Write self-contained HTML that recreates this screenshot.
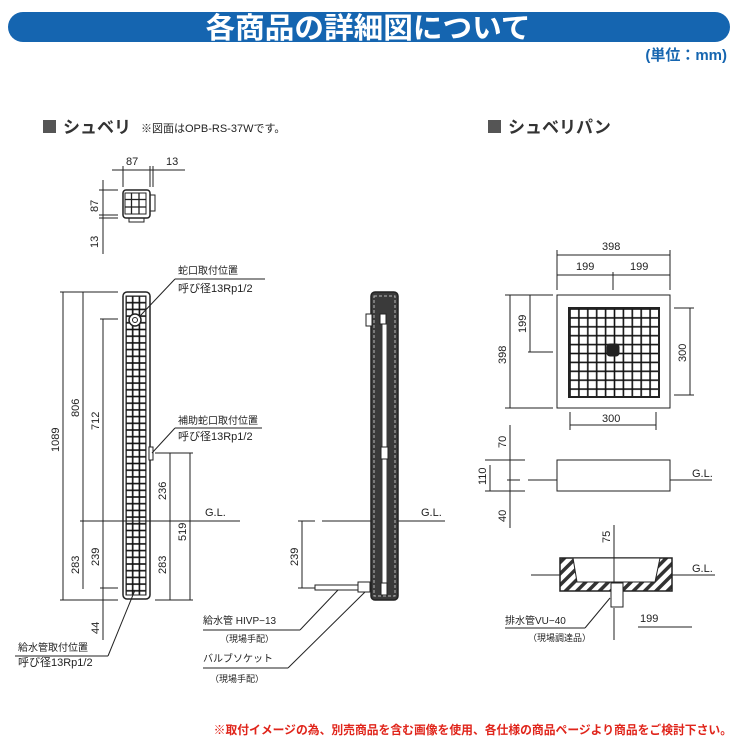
<!DOCTYPE html>
<html><head><meta charset="utf-8">
<style>
html,body{margin:0;padding:0;background:#fff;}
svg{display:block;}
text{font-family:"Liberation Sans","Noto Sans CJK JP",sans-serif;fill:#222;}
</style></head>
<body>
<svg width="740" height="740" viewBox="0 0 740 740" xmlns="http://www.w3.org/2000/svg">
<defs>
<pattern id="g1" x="126" y="296" width="6.7" height="6.7" patternUnits="userSpaceOnUse">
<rect x="0" y="0" width="6.7" height="6.7" fill="#fff" stroke="#111" stroke-width="1.6"/>
</pattern>
<pattern id="g2" x="570" y="309" width="8.9" height="8.9" patternUnits="userSpaceOnUse">
<rect x="0" y="0" width="8.9" height="8.9" fill="#fff" stroke="#111" stroke-width="1.6"/>
</pattern>
<pattern id="g3" x="124" y="192" width="7.5" height="7.5" patternUnits="userSpaceOnUse">
<rect x="0" y="0" width="7.5" height="7.5" fill="#fff" stroke="#222" stroke-width="1.3"/>
</pattern>
<pattern id="hatch" width="8" height="8" patternUnits="userSpaceOnUse" patternTransform="rotate(45)">
<rect width="8" height="8" fill="#fff"/><rect width="3.5" height="8" fill="#333"/>
</pattern>
</defs>

<!-- header -->
<rect x="8" y="12" width="722" height="30" rx="15" fill="#1565b0"/>
<text x="368" y="38" text-anchor="middle" font-size="29" font-weight="bold" textLength="325" lengthAdjust="spacingAndGlyphs" style="fill:#fff">各商品の詳細図について</text>
<text x="727" y="60" text-anchor="end" font-size="15" font-weight="bold" style="fill:#1565b0">(単位：mm)</text>

<!-- section titles -->
<rect x="43" y="120" width="13" height="13" fill="#555"/>
<text x="63" y="133" font-size="17" font-weight="bold" style="fill:#333">シュベリ</text>
<text x="141" y="132" font-size="11">※図面はOPB-RS-37Wです。</text>
<rect x="488" y="120" width="13" height="13" fill="#555"/>
<text x="508" y="133" font-size="17" font-weight="bold" style="fill:#333">シュベリパン</text>

<g stroke="#222" stroke-width="1" fill="none">
<rect x="123" y="190" width="27" height="28" rx="3" stroke-width="1.5"/>
<rect x="125" y="193" width="21" height="21" fill="url(#g3)"/>
<rect x="150" y="195" width="5" height="16"/>
<rect x="129" y="218" width="15" height="4"/>
<line x1="112" y1="170" x2="185" y2="170"/>
<line x1="123" y1="166" x2="123" y2="187"/><line x1="150" y1="166" x2="150" y2="187"/><line x1="153" y1="166" x2="153" y2="187"/>
<line x1="103" y1="180" x2="103" y2="254"/>
<line x1="99" y1="190" x2="118" y2="190"/><line x1="99" y1="215" x2="118" y2="215"/><line x1="99" y1="218" x2="118" y2="218"/>

<rect x="123" y="292" width="27" height="307" rx="4" stroke-width="1.5" fill="#fff"/>
<rect x="126" y="296" width="20" height="299" fill="url(#g1)"/>
<circle cx="135" cy="320" r="6" fill="#fff" stroke-width="1.5"/><circle cx="135" cy="320" r="2.5"/>
<rect x="149" y="447" width="4" height="13" fill="#fff"/>
<line x1="63" y1="292" x2="63" y2="600"/>
<line x1="83" y1="292" x2="83" y2="589"/>
<line x1="103" y1="319" x2="103" y2="640"/>
<line x1="60" y1="292" x2="118" y2="292"/><line x1="100" y1="319" x2="118" y2="319"/>
<line x1="60" y1="600" x2="118" y2="600"/><line x1="100" y1="588" x2="118" y2="588"/>
<line x1="170" y1="453" x2="170" y2="600"/>
<line x1="190" y1="453" x2="190" y2="600"/>
<line x1="155" y1="453" x2="193" y2="453"/><line x1="155" y1="600" x2="193" y2="600"/>
<line x1="80" y1="521" x2="240" y2="521"/>
<line x1="175" y1="279" x2="265" y2="279"/><line x1="175" y1="279" x2="140" y2="316"/>
<line x1="175" y1="428" x2="262" y2="428"/><line x1="175" y1="428" x2="152" y2="453"/>
<line x1="15" y1="656" x2="108" y2="656"/><line x1="108" y1="656" x2="135" y2="590"/>

<line x1="298" y1="521" x2="315" y2="521"/><line x1="322" y1="521" x2="445" y2="521"/>
<rect x="371" y="292" width="27" height="308" rx="4" fill="#3a3a3a" stroke-width="1.5"/>
<rect x="374" y="296" width="21" height="300" fill="none" stroke="#bbb" stroke-dasharray="3,2" stroke-width="1"/>
<rect x="383" y="318" width="3" height="272" fill="#fff" stroke="#fff"/>
<rect x="380" y="314" width="6" height="10" fill="#fff"/>
<rect x="381" y="447" width="7" height="12" fill="#fff"/>
<rect x="381" y="583" width="6" height="12" fill="#fff"/>
<rect x="366" y="314" width="6" height="12" fill="#fff"/>
<line x1="302" y1="521" x2="302" y2="588"/>
<line x1="298" y1="588" x2="315" y2="588"/>
<rect x="315" y="585" width="43" height="5" fill="#fff"/>
<rect x="358" y="582" width="12" height="10" fill="#fff"/>
<line x1="203" y1="630" x2="300" y2="630"/><line x1="300" y1="630" x2="338" y2="590"/>
<line x1="203" y1="668" x2="288" y2="668"/><line x1="288" y1="668" x2="365" y2="592"/>

<rect x="557" y="295" width="113" height="113"/>
<rect x="569" y="308" width="90" height="89" fill="url(#g2)" stroke-width="2"/>
<rect x="607" y="344" width="12" height="12" rx="3" fill="#222"/>
<line x1="557" y1="255" x2="670" y2="255"/>
<line x1="557" y1="275" x2="670" y2="275"/>
<line x1="557" y1="250" x2="557" y2="290"/><line x1="670" y1="250" x2="670" y2="290"/>
<line x1="613" y1="272" x2="613" y2="290"/>
<line x1="510" y1="295" x2="510" y2="408"/><line x1="505" y1="295" x2="553" y2="295"/><line x1="505" y1="408" x2="553" y2="408"/>
<line x1="530" y1="295" x2="530" y2="352"/><line x1="528" y1="352" x2="553" y2="352"/>
<line x1="690" y1="308" x2="690" y2="395"/><line x1="674" y1="308" x2="694" y2="308"/><line x1="674" y1="395" x2="694" y2="395"/>
<line x1="570" y1="425" x2="656" y2="425"/><line x1="570" y1="412" x2="570" y2="430"/><line x1="656" y1="412" x2="656" y2="430"/>

<rect x="557" y="460" width="113" height="31"/>
<line x1="528" y1="480" x2="557" y2="480"/><line x1="670" y1="480" x2="712" y2="480"/>
<line x1="510" y1="425" x2="510" y2="528"/>
<line x1="485" y1="460" x2="525" y2="460"/><line x1="485" y1="491" x2="525" y2="491"/>
<line x1="490" y1="465" x2="490" y2="491"/><line x1="507" y1="480" x2="520" y2="480"/>

<rect x="560" y="558" width="112" height="33" fill="url(#hatch)" stroke-width="1.5"/>
<path d="M573 558 L577 582 L655 582 L660 558 Z" fill="#fff"/>
<line x1="531" y1="575" x2="560" y2="575"/><line x1="672" y1="575" x2="715" y2="575"/>
<rect x="611" y="583" width="12" height="24" fill="#fff"/>
<line x1="614" y1="525" x2="614" y2="583"/>
<line x1="614" y1="608" x2="614" y2="640"/>
<line x1="638" y1="627" x2="692" y2="627"/>
<line x1="505" y1="628" x2="585" y2="628"/><line x1="585" y1="628" x2="610" y2="598"/>
</g>

<g font-size="11">
<text x="126" y="165">87</text><text x="166" y="165">13</text>
<text transform="translate(98,212) rotate(-90)">87</text>
<text transform="translate(98,248) rotate(-90)">13</text>
<text x="178" y="274" font-size="10">蛇口取付位置</text>
<text x="178" y="292" font-size="11">呼び径13Rp1/2</text>
<text x="178" y="424" font-size="10">補助蛇口取付位置</text>
<text x="178" y="440">呼び径13Rp1/2</text>
<text x="18" y="651" font-size="10">給水管取付位置</text>
<text x="18" y="666">呼び径13Rp1/2</text>
<text transform="translate(59,452) rotate(-90)">1089</text>
<text transform="translate(79,417) rotate(-90)">806</text>
<text transform="translate(99,430) rotate(-90)">712</text>
<text transform="translate(79,574) rotate(-90)">283</text>
<text transform="translate(99,566) rotate(-90)">239</text>
<text transform="translate(99,634) rotate(-90)">44</text>
<text transform="translate(166,500) rotate(-90)">236</text>
<text transform="translate(186,541) rotate(-90)">519</text>
<text transform="translate(166,574) rotate(-90)">283</text>
<text x="205" y="516">G.L.</text>
<text x="421" y="516">G.L.</text>
<text transform="translate(298,566) rotate(-90)">239</text>
<text x="203" y="624" font-size="10">給水管 HIVP−13</text>
<text x="220" y="642" font-size="9">（現場手配）</text>
<text x="203" y="662" font-size="10">バルブソケット</text>
<text x="210" y="682" font-size="9">（現場手配）</text>
<text x="602" y="250">398</text>
<text x="576" y="270">199</text><text x="630" y="270">199</text>
<text transform="translate(506,364) rotate(-90)">398</text>
<text transform="translate(526,333) rotate(-90)">199</text>
<text transform="translate(686,362) rotate(-90)">300</text>
<text x="602" y="422">300</text>
<text transform="translate(506,448) rotate(-90)">70</text>
<text transform="translate(486,485) rotate(-90)">110</text>
<text transform="translate(506,522) rotate(-90)">40</text>
<text x="692" y="477">G.L.</text>
<text transform="translate(610,543) rotate(-90)">75</text>
<text x="692" y="572">G.L.</text>
<text x="640" y="622">199</text>
<text x="505" y="624" font-size="10">排水管VU−40</text>
<text x="528" y="641" font-size="9">（現場調達品）</text>
</g>

<text x="732" y="734" text-anchor="end" font-size="11.8" font-weight="bold" style="fill:#e0251b">※取付イメージの為、別売商品を含む画像を使用、各仕様の商品ページより商品をご検討下さい。</text>
</svg>
</body></html>
